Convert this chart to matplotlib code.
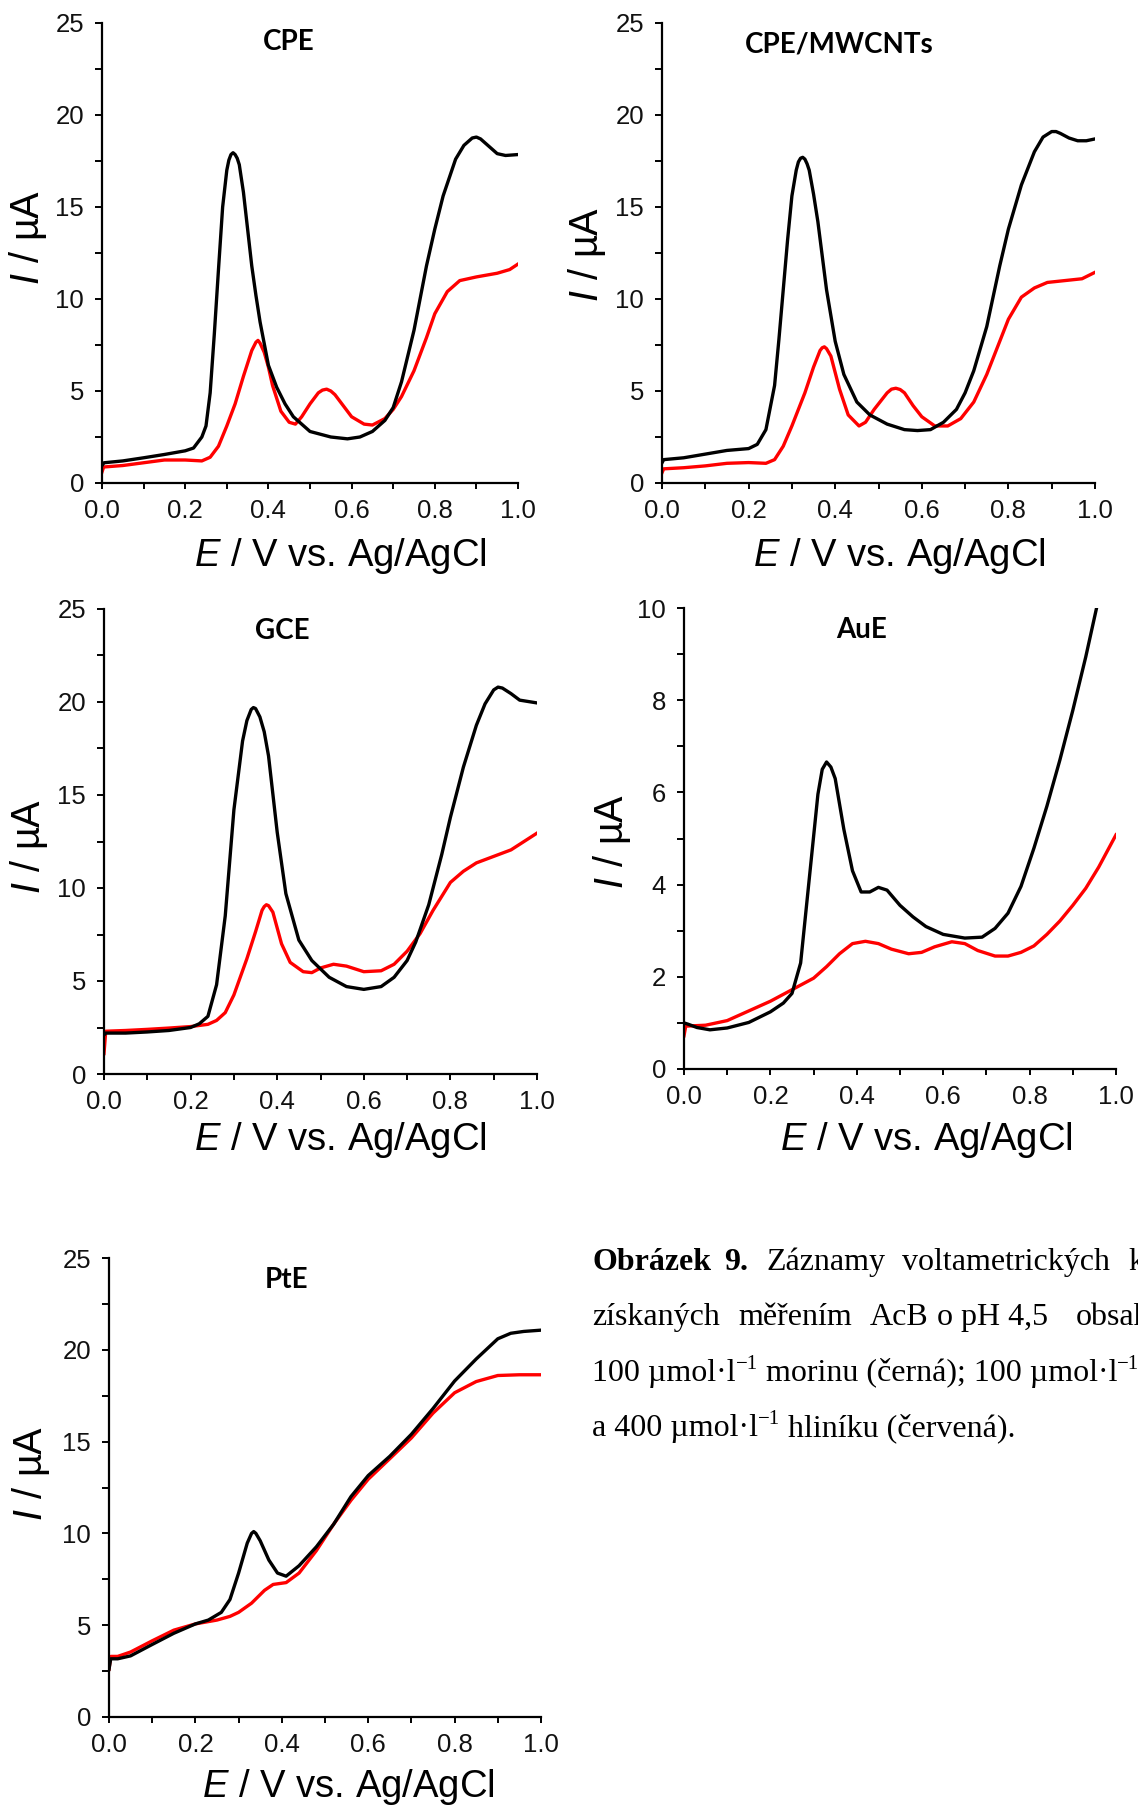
import matplotlib
matplotlib.use("Agg")
import matplotlib.pyplot as plt
from matplotlib.ticker import MultipleLocator

plt.rcParams['font.family'] = ['Liberation Sans', 'DejaVu Sans']
plt.rcParams['mathtext.fontset'] = 'custom'
plt.rcParams['mathtext.rm'] = 'Liberation Sans'
plt.rcParams['mathtext.it'] = 'Liberation Sans:italic'

# ---- data (E in V, I in uA) ----
cpe_x_black = [0, 0.005, 0.05, 0.1, 0.15, 0.2, 0.22, 0.24, 0.25, 0.26, 0.27, 0.28, 0.29, 0.30, 0.305, 0.31,
               0.315, 0.32, 0.325, 0.33, 0.34, 0.35, 0.36, 0.37, 0.38, 0.40, 0.42, 0.44, 0.46, 0.50, 0.55,
               0.59, 0.62, 0.65, 0.68, 0.70, 0.72, 0.75, 0.78, 0.80, 0.82, 0.85, 0.87, 0.89, 0.90, 0.91,
               0.93, 0.95, 0.97, 1.0]
cpe_i_black = [0.95, 1.1, 1.2, 1.37, 1.55, 1.75, 1.9, 2.5, 3.1, 4.9, 8.1, 11.6, 15.0, 17.0, 17.55, 17.85,
               17.95, 17.85, 17.65, 17.3, 15.8, 13.8, 11.8, 10.2, 8.75, 6.4, 5.2, 4.3, 3.6, 2.8, 2.5,
               2.4, 2.5, 2.8, 3.4, 4.1, 5.5, 8.3, 11.8, 13.8, 15.6, 17.6, 18.35, 18.75, 18.8, 18.7,
               18.3, 17.9, 17.8, 17.85]
cpe_x_red = [0, 0.004, 0.05, 0.1, 0.15, 0.2, 0.24, 0.26, 0.28, 0.30, 0.32, 0.34, 0.36, 0.37, 0.375, 0.38,
             0.39, 0.40, 0.41, 0.43, 0.45, 0.465, 0.48, 0.50, 0.52, 0.53, 0.54, 0.55, 0.56, 0.58, 0.60,
             0.63, 0.65, 0.68, 0.70, 0.72, 0.75, 0.78, 0.80, 0.83, 0.86, 0.90, 0.95, 0.98, 1.0]
cpe_i_red = [0.6, 0.87, 0.95, 1.1, 1.25, 1.25, 1.2, 1.4, 2.0, 3.1, 4.3, 5.8, 7.2, 7.65, 7.75, 7.6,
             7.1, 6.3, 5.3, 3.9, 3.3, 3.2, 3.6, 4.3, 4.9, 5.05, 5.1, 5.0, 4.8, 4.2, 3.6,
             3.2, 3.15, 3.5, 4.0, 4.7, 6.1, 7.9, 9.2, 10.4, 11.0, 11.2, 11.4, 11.6, 11.9]

mw_x_black = [0, 0.004, 0.05, 0.1, 0.15, 0.2, 0.22, 0.24, 0.26, 0.27, 0.28, 0.29, 0.30, 0.31, 0.315, 0.32,
              0.325, 0.33, 0.335, 0.34, 0.35, 0.36, 0.38, 0.40, 0.42, 0.45, 0.48, 0.52, 0.56, 0.59, 0.62,
              0.65, 0.68, 0.70, 0.72, 0.75, 0.78, 0.80, 0.83, 0.86, 0.88, 0.90, 0.91, 0.92, 0.94, 0.96,
              0.98, 1.0]
mw_i_black = [1.1, 1.27, 1.37, 1.57, 1.77, 1.87, 2.1, 2.9, 5.3, 7.8, 10.5, 13.2, 15.6, 17.0, 17.45, 17.65,
              17.7, 17.6, 17.35, 17.0, 15.7, 14.2, 10.5, 7.7, 5.9, 4.4, 3.7, 3.2, 2.9, 2.85, 2.9,
              3.3, 4.0, 4.9, 6.1, 8.5, 11.8, 13.8, 16.2, 18.0, 18.8, 19.1, 19.1, 19.0, 18.75, 18.6,
              18.6, 18.7]
mw_x_red = [0, 0.004, 0.05, 0.1, 0.15, 0.2, 0.24, 0.26, 0.28, 0.30, 0.33, 0.35, 0.365, 0.37, 0.375, 0.38,
            0.39, 0.41, 0.43, 0.455, 0.47, 0.49, 0.52, 0.53, 0.54, 0.55, 0.56, 0.58, 0.60, 0.63, 0.66,
            0.69, 0.72, 0.75, 0.78, 0.80, 0.83, 0.86, 0.89, 0.93, 0.97, 1.0]
mw_i_red = [0.56, 0.77, 0.83, 0.93, 1.07, 1.11, 1.07, 1.27, 2.0, 3.1, 4.9, 6.3, 7.2, 7.35, 7.4, 7.3,
            6.9, 5.1, 3.7, 3.1, 3.3, 4.0, 4.9, 5.1, 5.15, 5.08, 4.9, 4.2, 3.6, 3.1, 3.1,
            3.5, 4.4, 5.9, 7.7, 8.9, 10.1, 10.6, 10.9, 11.0, 11.1, 11.45]

gce_x_black = [0, 0.004, 0.05, 0.1, 0.15, 0.2, 0.22, 0.24, 0.26, 0.28, 0.30, 0.32, 0.33, 0.34, 0.345, 0.35,
               0.36, 0.37, 0.38, 0.40, 0.42, 0.45, 0.48, 0.52, 0.56, 0.60, 0.64, 0.67, 0.70, 0.72, 0.75,
               0.78, 0.80, 0.83, 0.86, 0.88, 0.90, 0.91, 0.92, 0.94, 0.96, 1.0]
gce_i_black = [2.1, 2.2, 2.2, 2.26, 2.34, 2.5, 2.7, 3.1, 4.8, 8.5, 14.2, 17.9, 19.0, 19.6, 19.7, 19.65,
               19.2, 18.4, 17.1, 13.0, 9.7, 7.2, 6.1, 5.2, 4.7, 4.55, 4.7, 5.2, 6.1, 7.1, 9.1,
               11.8, 13.8, 16.5, 18.75, 19.9, 20.65, 20.8, 20.75, 20.45, 20.1, 19.95]
gce_x_red = [0, 0.004, 0.05, 0.1, 0.15, 0.2, 0.24, 0.26, 0.28, 0.30, 0.33, 0.35, 0.365, 0.37, 0.375, 0.38,
             0.39, 0.41, 0.43, 0.46, 0.48, 0.50, 0.53, 0.56, 0.60, 0.64, 0.67, 0.70, 0.73, 0.76, 0.80,
             0.83, 0.86, 0.90, 0.94, 0.97, 1.0]
gce_i_red = [1.1, 2.3, 2.34, 2.4, 2.47, 2.55, 2.67, 2.88, 3.3, 4.25, 6.2, 7.65, 8.8, 9.0, 9.1, 9.05,
             8.7, 7.0, 6.0, 5.5, 5.45, 5.7, 5.9, 5.8, 5.5, 5.55, 5.9, 6.6, 7.55, 8.8, 10.3,
             10.9, 11.35, 11.7, 12.05, 12.5, 12.95]

aue_x_black = [0, 0.01, 0.03, 0.06, 0.1, 0.15, 0.2, 0.23, 0.25, 0.27, 0.29, 0.31, 0.32, 0.33, 0.34, 0.35,
               0.37, 0.39, 0.41, 0.43, 0.45, 0.47, 0.50, 0.53, 0.56, 0.60, 0.65, 0.69, 0.72, 0.75, 0.78,
               0.81, 0.84, 0.87, 0.90, 0.93, 0.955]
aue_i_black = [1.0, 0.97, 0.9, 0.85, 0.89, 1.01, 1.24, 1.43, 1.64, 2.3, 4.13, 5.96, 6.5, 6.66, 6.55, 6.3,
               5.2, 4.3, 3.84, 3.84, 3.94, 3.88, 3.55, 3.3, 3.09, 2.92, 2.84, 2.86, 3.05, 3.38, 3.96,
               4.79, 5.7, 6.7, 7.78, 8.94, 10.0]
aue_x_red = [0, 0.004, 0.05, 0.1, 0.15, 0.2, 0.25, 0.30, 0.33, 0.36, 0.39, 0.42, 0.45, 0.48, 0.52, 0.55,
             0.58, 0.62, 0.65, 0.68, 0.72, 0.75, 0.78, 0.81, 0.84, 0.87, 0.90, 0.93, 0.96, 1.0]
aue_i_red = [0.72, 0.93, 0.95, 1.05, 1.26, 1.47, 1.72, 1.97, 2.22, 2.5, 2.72, 2.77, 2.72, 2.6, 2.5, 2.53,
             2.65, 2.76, 2.72, 2.57, 2.45, 2.45, 2.53, 2.67, 2.92, 3.21, 3.55, 3.92, 4.38, 5.08]

pte_x_black = [0, 0.004, 0.02, 0.05, 0.1, 0.15, 0.2, 0.23, 0.26, 0.28, 0.30, 0.32, 0.33, 0.335, 0.34, 0.35,
               0.37, 0.39, 0.41, 0.44, 0.48, 0.52, 0.56, 0.60, 0.65, 0.70, 0.75, 0.80, 0.85, 0.90, 0.93,
               0.96, 1.0]
pte_i_black = [2.6, 3.17, 3.17, 3.33, 3.95, 4.56, 5.07, 5.28, 5.7, 6.4, 7.84, 9.47, 10.0, 10.1, 10.0, 9.6,
               8.55, 7.84, 7.67, 8.24, 9.27, 10.5, 12.0, 13.15, 14.2, 15.4, 16.8, 18.3, 19.5, 20.6, 20.9,
               21.0, 21.07]
pte_x_red = [0, 0.004, 0.02, 0.05, 0.1, 0.15, 0.2, 0.25, 0.28, 0.30, 0.33, 0.36, 0.38, 0.41, 0.44, 0.48,
             0.52, 0.56, 0.60, 0.65, 0.70, 0.75, 0.80, 0.85, 0.90, 0.95, 1.0]
pte_i_red = [2.6, 3.3, 3.3, 3.54, 4.15, 4.73, 5.07, 5.28, 5.48, 5.7, 6.2, 6.9, 7.22, 7.32, 7.84, 9.06,
             10.5, 11.8, 12.95, 14.07, 15.2, 16.55, 17.66, 18.27, 18.6, 18.64, 18.64]

titles = ['CPE', 'CPE/MWCNTs', 'GCE', 'AuE', 'PtE']
ymax = [25, 25, 25, 10, 25]
ymajor = [5, 5, 5, 2, 5]
yminor = [2.5, 2.5, 2.5, 1, 2.5]

W, H = 1138, 1809
fig = plt.figure(figsize=(W / 100, H / 100), dpi=100)


def fx(x):
    return x / W


def fy(y):
    return 1 - y / H


# panel boxes in pixels: left, top, right, bottom
boxes = [(102, 23, 518, 483), (662, 23, 1095, 483), (104, 609, 537, 1074),
         (684, 608, 1116, 1069), (109, 1258, 541, 1717)]
title_pos = [(289, 50), (839, 53), (282, 639), (862, 638), (287, 1288)]
ylab_pos = [(28, 237), (587, 254), (29, 846), (612, 841), (31, 1473)]
xlab_pos = [(340, 566), (899, 566), (340, 1150), (926, 1150), (348, 1797)]

curves = [
    (cpe_x_black, cpe_i_black, cpe_x_red, cpe_i_red),
    (mw_x_black, mw_i_black, mw_x_red, mw_i_red),
    (gce_x_black, gce_i_black, gce_x_red, gce_i_red),
    (aue_x_black, aue_i_black, aue_x_red, aue_i_red),
    (pte_x_black, pte_i_black, pte_x_red, pte_i_red),
]

for k in range(5):
    l, t, r, b = boxes[k]
    ax = fig.add_axes([fx(l), fy(b), (r - l) / W, (b - t) / H])
    xb, yb, xr, yr = curves[k]
    ax.plot(xr, yr, color='#ff0000', lw=2.4, solid_joinstyle='round')
    ax.plot(xb, yb, color='black', lw=2.4, solid_joinstyle='round')
    ax.set_xlim(0, 1.0)
    ax.set_ylim(0, ymax[k])
    ax.spines['top'].set_visible(False)
    ax.spines['right'].set_visible(False)
    ax.spines['left'].set_linewidth(1.6)
    ax.spines['bottom'].set_linewidth(1.6)
    ax.xaxis.set_major_locator(MultipleLocator(0.2))
    ax.xaxis.set_minor_locator(MultipleLocator(0.1))
    ax.yaxis.set_major_locator(MultipleLocator(ymajor[k]))
    ax.yaxis.set_minor_locator(MultipleLocator(yminor[k]))
    ax.xaxis.set_major_formatter(plt.FuncFormatter(lambda v, p: f'{v:.1f}'))
    ax.yaxis.set_major_formatter(plt.FuncFormatter(lambda v, p: f'{v:g}'))
    ax.tick_params(axis='x', which='both', direction='out', length=4.5, width=1.4, pad=7)
    ax.tick_params(axis='y', which='both', direction='out', length=5, width=1.4, pad=8)
    ax.tick_params(labelsize=18.5, labelcolor='#111111')

    tx, ty = title_pos[k]
    fig.text(fx(tx), fy(ty), titles[k], family='Lato', fontweight='bold', fontsize=20,
             ha='center', va='baseline')
    lx, ly = ylab_pos[k]
    fig.text(fx(lx), fy(ly), r'$\mathit{I}$ / µA', fontsize=28.5, rotation=90,
             ha='center', va='center')
    xx, xy = xlab_pos[k]
    fig.text(fx(xx), fy(xy), r'$\mathit{E}$ / V vs. Ag/AgCl', fontsize=27.5,
             ha='center', va='baseline')

# ---- caption (justified words in the first two lines) ----
cap_size = 23
serif = 'Liberation Serif'
fig.text(fx(592), fy(1270), 'Obrázek', family=serif, fontweight='bold', fontsize=cap_size, va='baseline')
fig.text(fx(724), fy(1270), '9.', family=serif, fontweight='bold', fontsize=cap_size, va='baseline')
for word, x in [('Záznamy', 766), ('voltametrických', 902), ('křivek', 1128)]:
    fig.text(fx(x), fy(1270), word, family=serif, fontsize=cap_size, va='baseline')
for word, x in [('získaných', 592), ('měřením', 738), ('AcB', 870), ('o pH 4,5', 937), ('obsahující', 1076)]:
    fig.text(fx(x), fy(1325), word, family=serif, fontsize=cap_size, va='baseline')

renderer = fig.canvas.get_renderer()


def put_run(x, y, pieces):
    for txt, sup in pieces:
        if sup:
            t = fig.text(fx(x), fy(y - 12), txt, family=serif, fontsize=15, va='baseline')
        else:
            t = fig.text(fx(x), fy(y), txt, family=serif, fontsize=cap_size, va='baseline')
        x += t.get_window_extent(renderer=renderer).width


put_run(592, 1381, [('100 µmol·l', False), ('−1', True), (' morinu (černá); 100 µmol·l', False),
                    ('−1', True), (' morinu', False)])
put_run(592, 1436, [('a 400 µmol·l', False), ('−1', True), (' hliníku (červená).', False)])

fig.savefig('out.png', dpi=100)
